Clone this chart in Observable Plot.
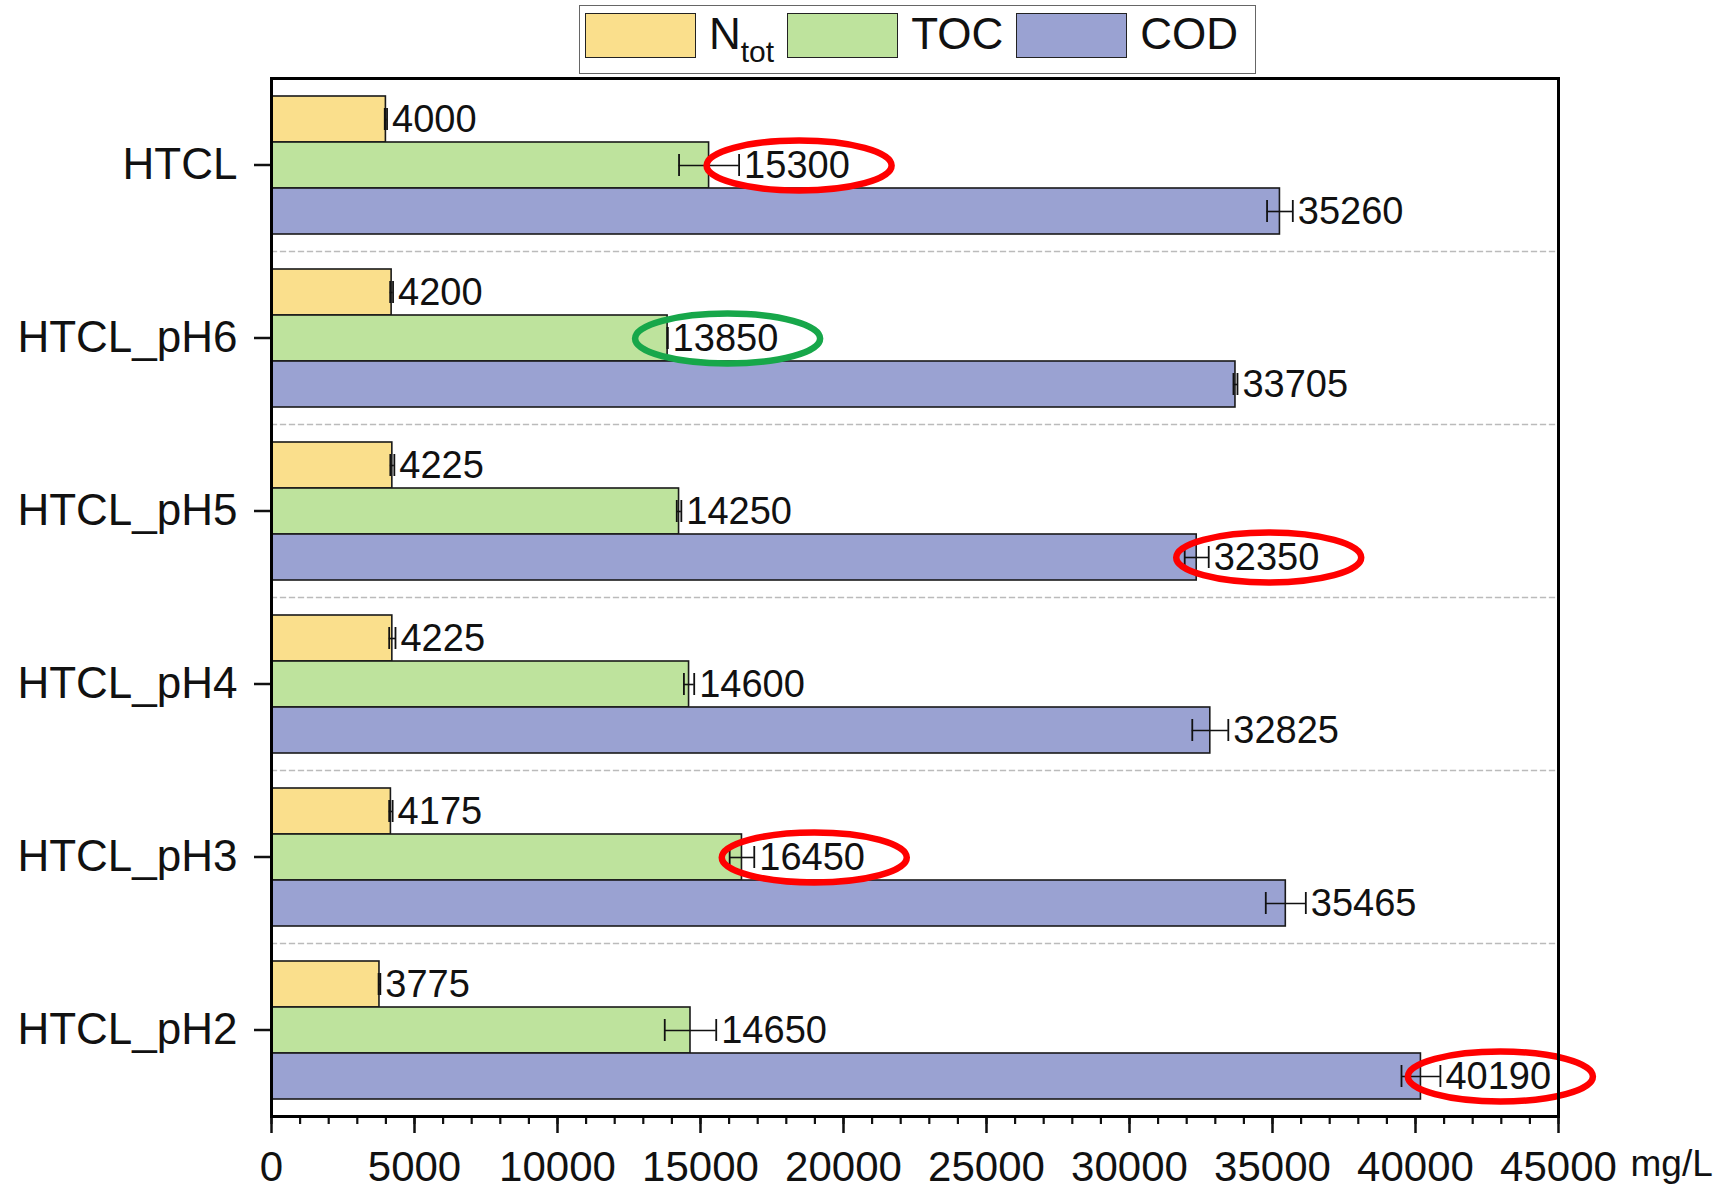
<!DOCTYPE html>
<html>
<head>
<meta charset="utf-8">
<script src="https://cdn.jsdelivr.net/npm/d3@7"></script>
<script src="https://cdn.jsdelivr.net/npm/@observablehq/plot@0.6"></script>
<style>
  body { margin: 0; background: #fff; font-family: "Liberation Sans", Arial, sans-serif; }
  #wrap { position: relative; width: 1723px; height: 1189px; }
  #legend { position: absolute; left: 579px; top: 5px; width: 677px; height: 69px; box-sizing: border-box;
            border: 1.5px solid #666; background: #fff; display: flex; align-items: flex-start; padding-left: 5px; }
  .sw { width: 111px; height: 45px; box-sizing: border-box; border: 1.8px solid #222; margin-right: 13px; margin-top: 7px; }
  .lab { font-size: 44px; line-height: 44px; color: #111; margin-right: 13px; margin-top: 6px; white-space: nowrap; }
  .lab sub { font-size: 30px; vertical-align: -13px; line-height: 0; }
</style>
</head>
<body>
<div id="wrap">
  <div id="chart"></div>
  <div id="legend"></div>
</div>
<script>
// ---- data ----
const categories = ["HTCL", "HTCL_pH6", "HTCL_pH5", "HTCL_pH4", "HTCL_pH3", "HTCL_pH2"];
const seriesKeys = ["Ntot", "TOC", "COD"];
const seriesLabels = ["N<sub>tot</sub>", "TOC", "COD"];
const ntot    = [4000, 4200, 4225, 4225, 4175, 3775];
const ntotErr = [40, 50, 70, 110, 60, 30];
const toc     = [15300, 13850, 14250, 14600, 16450, 14650];
const tocErr  = [1050, 0, 80, 180, 430, 900];
const cod     = [35260, 33705, 32350, 32825, 35465, 40190];
const codErr  = [450, 70, 420, 630, 700, 680];
const colors  = ["#FADF8C", "#BEE39D", "#9AA2D2"];
const xTicks  = [0, 5000, 10000, 15000, 20000, 25000, 30000, 35000, 40000, 45000];
const xMinorTicks = d3.range(0, 45001, 1000);
const redHighlights   = [["HTCL", "TOC"], ["HTCL_pH5", "COD"], ["HTCL_pH3", "TOC"], ["HTCL_pH2", "COD"]];
const greenHighlights = [["HTCL_pH6", "TOC"]];

// ---- table ----
const values = [ntot, toc, cod];
const errs = [ntotErr, tocErr, codErr];
const rows = categories.flatMap((c, i) => seriesKeys.map((s, j) => ({
  cat: c, series: s, value: values[j][i], err: errs[j][i],
  lo: values[j][i] - errs[j][i], hi: values[j][i] + errs[j][i]
})));
const pick = list => list.map(([c, s]) => rows.find(d => d.cat === c && d.series === s));

// ellipse symbol for highlight rings
const ellipse = {
  draw(ctx, size) {
    const ry = Math.sqrt(size / Math.PI), rx = ry * 3.7, k = 0.5523;
    ctx.moveTo(rx, 0);
    ctx.bezierCurveTo(rx, k * ry, k * rx, ry, 0, ry);
    ctx.bezierCurveTo(-k * rx, ry, -rx, k * ry, -rx, 0);
    ctx.bezierCurveTo(-rx, -k * ry, -k * rx, -ry, 0, -ry);
    ctx.bezierCurveTo(k * rx, -ry, rx, -k * ry, rx, 0);
    ctx.closePath();
  }
};

const tickOpts = {y: "series", fy: "cat", insetTop: 12, insetBottom: 12, stroke: "#111", strokeWidth: 1.8};

const chart = Plot.plot({
  width: 1723, height: 1189,
  marginTop: 77, marginBottom: 72, marginLeft: 271, marginRight: 165,
  style: {fontFamily: '"Liberation Sans", Arial, sans-serif', background: "transparent", color: "#111"},
  x: {domain: [0, 45000]},
  y: {domain: seriesKeys, paddingInner: 0, paddingOuter: 0.38, axis: null},
  fy: {domain: categories, paddingInner: 0, paddingOuter: 0},
  color: {domain: seriesKeys, range: colors},
  marks: [
    Plot.frame({anchor: "top", stroke: "#bbb", strokeDasharray: "5,4", strokeWidth: 1.3}),
    Plot.barX(rows, {x: "value", y: "series", fy: "cat", fill: "series", stroke: "#1a1a1a", strokeWidth: 1.6}),
    Plot.ruleY(rows, {x1: "lo", x2: "hi", y: "series", fy: "cat", stroke: "#111", strokeWidth: 1.6}),
    Plot.tickX(rows, {x: "lo", ...tickOpts}),
    Plot.tickX(rows, {x: "hi", ...tickOpts}),
    Plot.text(rows, {x: "hi", y: "series", fy: "cat", text: d => String(d.value), textAnchor: "start", dx: 5, fontSize: 38, fill: "#111"}),
    Plot.dot(pick(redHighlights), {x: "hi", y: "series", fy: "cat", r: 25, symbol: ellipse, fill: "none", stroke: "#FF0000", strokeWidth: 6.5, dx: 60}),
    Plot.dot(pick(greenHighlights), {x: "hi", y: "series", fy: "cat", r: 25, symbol: ellipse, fill: "none", stroke: "#17A74A", strokeWidth: 6.5, dx: 60}),
    Plot.axisFy({anchor: "left", tickSize: 17, tickPadding: 17, fontSize: 44, label: null, strokeWidth: 2.5}),
    Plot.axisX({ticks: xMinorTicks, tickSize: 8, tickFormat: () => "", label: null, strokeWidth: 2.2}),
    Plot.axisX({ticks: xTicks, tickSize: 17, tickPadding: 18, tickFormat: "d", fontSize: 42, label: null, strokeWidth: 2.5}),
    Plot.text(["mg/L"], {frameAnchor: "bottom-right", textAnchor: "start", dx: 72, dy: 59, fontSize: 37, fill: "#111", facet: "super"}),
    Plot.frame({facet: "super", stroke: "#000", strokeWidth: 3})
  ]
});
document.getElementById("chart").appendChild(chart);

// legend
const legend = document.getElementById("legend");
seriesKeys.forEach((s, i) => {
  const sw = document.createElement("div");
  sw.className = "sw";
  sw.style.background = colors[i];
  const lab = document.createElement("div");
  lab.className = "lab";
  lab.innerHTML = seriesLabels[i];
  legend.appendChild(sw);
  legend.appendChild(lab);
});
</script>
</body>
</html>
